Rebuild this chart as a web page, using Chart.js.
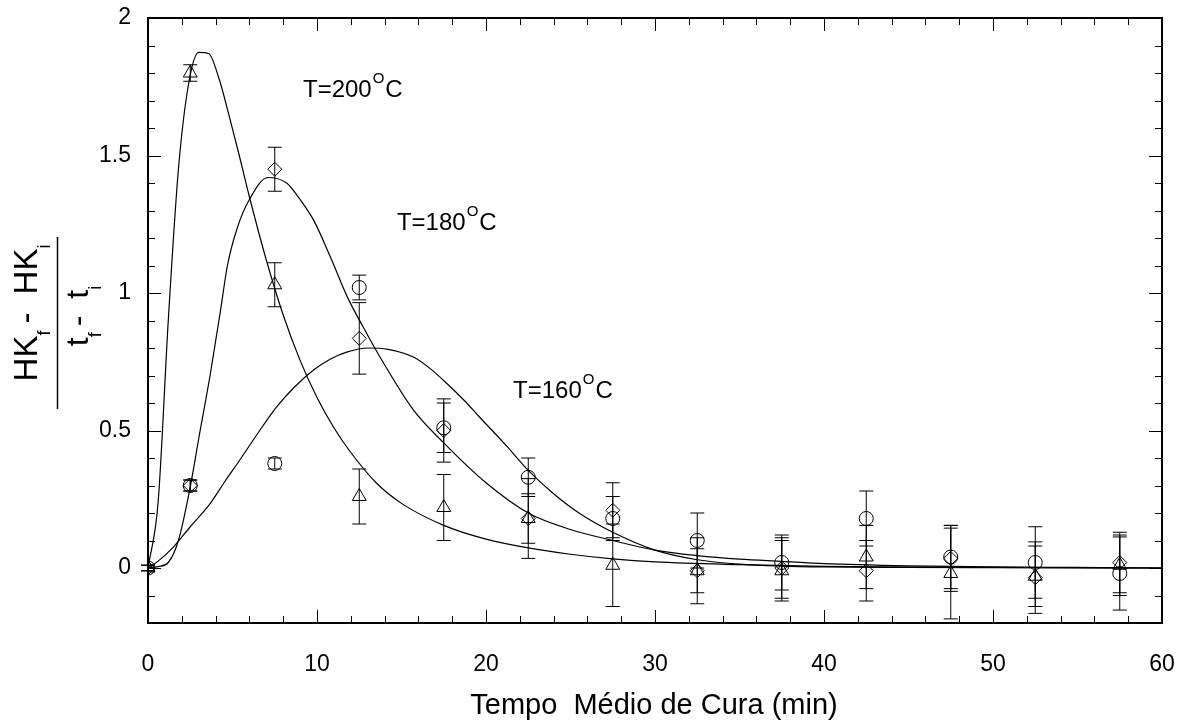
<!DOCTYPE html>
<html>
<head>
<meta charset="utf-8">
<script src="https://cdn.jsdelivr.net/npm/chart.js@4.4.0/dist/chart.umd.min.js"></script>
<style>
  html, body { margin: 0; padding: 0; background: #fff; }
  #wrap { width: 1195px; height: 727px; }
</style>
</head>
<body>
<div id="wrap"><canvas id="cureChart" width="1195" height="727"></canvas></div>
<script>
// measured cure times (min)
const sampleTimes = [0, 2.5, 7.5, 12.5, 17.5, 22.5, 27.5, 32.5, 37.5, 42.5, 47.5, 52.5, 57.5];

// (HKf - HKi)/(tf - ti) and error half-widths per temperature
const rate200 = [0, 1.80, 1.03, 0.26, 0.22, 0.18, 0.01, -0.01, -0.01, 0.04, -0.02, -0.03, 0.01];
const err200  = [0.01, 0.03, 0.08, 0.10, 0.12, 0.145, 0.15, 0.08, 0.11, 0.115, 0.165, 0.11, 0.11];
const rate180 = [0, 0.30, 1.45, 0.835, 0.50, 0.18, 0.21, -0.01, 0.0, -0.01, 0.035, -0.035, 0.02];
const err180  = [0.01, 0.02, 0.08, 0.13, 0.115, 0.09, 0.10, 0.12, 0.11, 0.11, 0.12, 0.13, 0.11];
const rate160 = [0, 0.30, 0.38, 1.02, 0.51, 0.33, 0.18, 0.10, 0.02, 0.18, 0.04, 0.02, -0.02];
const err160  = [0.01, 0.02, 0.02, 0.045, 0.09, 0.07, 0.08, 0.10, 0.10, 0.10, 0.115, 0.13, 0.133];

// fitted curves
const fitX200 = [0, 0.6, 1.2, 1.8, 2.4, 3.0, 3.6, 4.2, 4.8, 5.4, 6.0, 7.0, 8.0, 9.0, 10.0, 11.0, 12.0, 13.5, 15.0, 17.5, 20, 22.5, 25, 27.5, 30, 35, 40, 45, 50, 55, 60];
const fit200  = [0, 0.24, 0.90, 1.45, 1.76, 1.875, 1.87, 1.78, 1.645, 1.50, 1.35, 1.12, 0.92, 0.755, 0.62, 0.51, 0.42, 0.31, 0.235, 0.155, 0.105, 0.073, 0.05, 0.033, 0.022, 0.012, 0.006, 0.003, 0.002, 0.001, 0];
const fitX180 = [0, 0.6, 1.2, 1.8, 2.5, 3.0, 3.7, 4.3, 4.7, 5.3, 6.0, 7.1, 8.2, 9.0, 9.8, 10.8, 11.8, 12.7, 13.7, 15.7, 17.5, 20, 22.5, 25, 27.5, 30, 32.5, 35, 37.5, 40, 45, 50, 55, 60];
const fit180  = [0, 0.005, 0.02, 0.10, 0.295, 0.47, 0.71, 0.94, 1.10, 1.24, 1.34, 1.42, 1.40, 1.34, 1.265, 1.13, 0.985, 0.88, 0.77, 0.575, 0.455, 0.31, 0.20, 0.14, 0.10, 0.065, 0.045, 0.032, 0.024, 0.016, 0.008, 0.004, 0.002, 0];
const fitX160 = [0, 0.6, 1.5, 2.5, 3.7, 4.5, 5.4, 6.5, 7.6, 8.7, 9.8, 10.8, 11.8, 13.0, 14.2, 15.7, 16.7, 17.7, 18.7, 19.6, 21.2, 22.5, 24, 25.5, 27.5, 30, 32.5, 35, 37.5, 40, 45, 50, 60];
const fit160  = [0, 0.025, 0.076, 0.15, 0.236, 0.31, 0.39, 0.49, 0.585, 0.66, 0.72, 0.76, 0.786, 0.80, 0.795, 0.767, 0.725, 0.67, 0.61, 0.55, 0.445, 0.355, 0.27, 0.20, 0.13, 0.065, 0.03, 0.014, 0.007, 0.004, 0.002, 0.001, 0];

const xTicks = [0, 10, 20, 30, 40, 50, 60];
const yTicks = [0, 0.5, 1, 1.5, 2];
const tempLabels = ['T=200', 'T=180', 'T=160'];
const tempLabelPos = [[9.17, 1.713], [14.73, 1.229], [21.6, 0.618]];

const FONT = '"Liberation Sans", Arial, sans-serif';

const toPts = (xs, ys) => xs.map((x, i) => ({ x, y: ys[i] }));

function curve(xs, ys) {
    return {
        data: toPts(xs, ys),
        showLine: true,
        pointRadius: 0,
        borderColor: '#000',
        borderWidth: 1.2,
        cubicInterpolationMode: 'monotone',
        fill: false
    };
}

function markers(ys, errs, style, r) {
    return {
        data: toPts(sampleTimes, ys),
        errs: errs,
        showLine: false,
        pointStyle: style,
        pointRadius: r,
        borderColor: '#000',
        backgroundColor: 'rgba(0,0,0,0)',
        borderWidth: 1
    };
}

// error bars drawn through the scales
const errorBars = {
    id: 'errorBars',
    afterDatasetsDraw(chart) {
        const { ctx, scales: { x, y } } = chart;
        ctx.save();
        ctx.strokeStyle = '#000';
        ctx.lineWidth = 1;
        chart.data.datasets.forEach(ds => {
            if (!ds.errs) return;
            ds.data.forEach((p, i) => {
                const px = x.getPixelForValue(p.x);
                const top = y.getPixelForValue(p.y + ds.errs[i]);
                const bot = y.getPixelForValue(p.y - ds.errs[i]);
                ctx.beginPath();
                ctx.moveTo(px, top); ctx.lineTo(px, bot);
                ctx.moveTo(px - 7, top); ctx.lineTo(px + 7, top);
                ctx.moveTo(px - 7, bot); ctx.lineTo(px + 7, bot);
                ctx.stroke();
            });
        });
        ctx.restore();
    }
};

// box, inward ticks, titles and temperature labels
const frame = {
    id: 'frame',
    afterDraw(chart) {
        const { ctx, chartArea: a, scales: { x, y } } = chart;
        ctx.save();
        ctx.strokeStyle = '#000';
        ctx.lineWidth = 1;
        ctx.beginPath();
        for (let v = 0; v <= 60; v += 2) {
            const px = Math.round(x.getPixelForValue(v)) + 0.5;
            const len = v % 10 === 0 ? 13 : 7;
            ctx.moveTo(px, a.bottom); ctx.lineTo(px, a.bottom - len);
            ctx.moveTo(px, a.top); ctx.lineTo(px, a.top + len);
        }
        for (let i = -2; i <= 20; i++) {
            const py = Math.round(y.getPixelForValue(i / 10)) + 0.5;
            const len = i % 5 === 0 ? 13 : 7;
            ctx.moveTo(a.left, py); ctx.lineTo(a.left + len, py);
            ctx.moveTo(a.right, py); ctx.lineTo(a.right - len, py);
        }
        ctx.stroke();
        ctx.lineWidth = 2;
        ctx.strokeRect(a.left, a.top, a.right - a.left, a.bottom - a.top);

        ctx.fillStyle = '#000';
        ctx.textBaseline = 'alphabetic';

        // temperature labels with superscript O
        tempLabels.forEach((t, i) => {
            let px = x.getPixelForValue(tempLabelPos[i][0]);
            const py = y.getPixelForValue(tempLabelPos[i][1]);
            ctx.font = '24px ' + FONT;
            ctx.fillText(t, px, py);
            px += ctx.measureText(t).width + 1;
            ctx.font = '15px ' + FONT;
            ctx.fillText('O', px, py - 14);
            px += ctx.measureText('O').width + 1;
            ctx.font = '24px ' + FONT;
            ctx.fillText('C', px, py);
        });

        // x title
        ctx.font = '29px ' + FONT;
        ctx.textAlign = 'center';
        ctx.fillText('Tempo  M\u00e9dio de Cura (min)', 654, 714);

        // y title as a fraction, rotated
        ctx.save();
        ctx.rotate(-Math.PI / 2);
        ctx.textAlign = 'left';
        const drawParts = (parts, centre, base) => {
            let w = 0;
            parts.forEach(p => { ctx.font = p[1] + 'px ' + FONT; w += ctx.measureText(p[0]).width + (p[3] || 0); });
            let pos = -centre - w / 2;
            parts.forEach(p => {
                ctx.font = p[1] + 'px ' + FONT;
                ctx.fillText(p[0], pos, base + p[2]);
                pos += ctx.measureText(p[0]).width + (p[3] || 0);
            });
        };
        drawParts([['HK', 33, 0], ['f', 18, 13, 7], ['-', 33, 0, 9], [' HK', 33, 0], ['i', 18, 13]], 313, 37);
        drawParts([['t', 32, 0], ['f', 18, 13, 6], ['-', 32, 0, 8], [' t', 32, 0], ['i', 18, 13]], 316, 88);
        ctx.lineWidth = 1.5;
        ctx.beginPath();
        ctx.moveTo(-237, 57.5); ctx.lineTo(-409, 57.5);
        ctx.stroke();
        ctx.restore();
        ctx.restore();
    }
};

new Chart(document.getElementById('cureChart'), {
    type: 'scatter',
    data: {
        datasets: [
            curve(fitX200, fit200),
            curve(fitX180, fit180),
            curve(fitX160, fit160),
            markers(rate200, err200, 'triangle', 8),
            markers(rate180, err180, 'rectRot', 7),
            markers(rate160, err160, 'circle', 7)
        ]
    },
    options: {
        responsive: false,
        animation: false,
        events: [],
        layout: { padding: { top: 18, right: 33, left: 0, bottom: 0 } },
        plugins: { legend: { display: false }, tooltip: { enabled: false } },
        scales: {
            x: {
                type: 'linear',
                min: 0,
                max: 60,
                afterFit: s => { s.height = 104; s.paddingLeft = 0; s.paddingRight = 0; },
                afterBuildTicks: s => { s.ticks = xTicks.map(v => ({ value: v })); },
                grid: { display: false, drawTicks: false },
                border: { display: false },
                ticks: { color: '#000', padding: 28, font: { family: FONT, size: 23 }, callback: v => String(v) }
            },
            y: {
                type: 'linear',
                min: -0.2,
                max: 2,
                afterFit: s => { s.width = 148; s.paddingTop = 0; s.paddingBottom = 0; },
                afterBuildTicks: s => { s.ticks = yTicks.map(v => ({ value: v })); },
                grid: { display: false, drawTicks: false },
                border: { display: false },
                ticks: { color: '#000', padding: 17, font: { family: FONT, size: 23 }, callback: v => String(v) }
            }
        }
    },
    plugins: [errorBars, frame]
});
</script>
</body>
</html>
